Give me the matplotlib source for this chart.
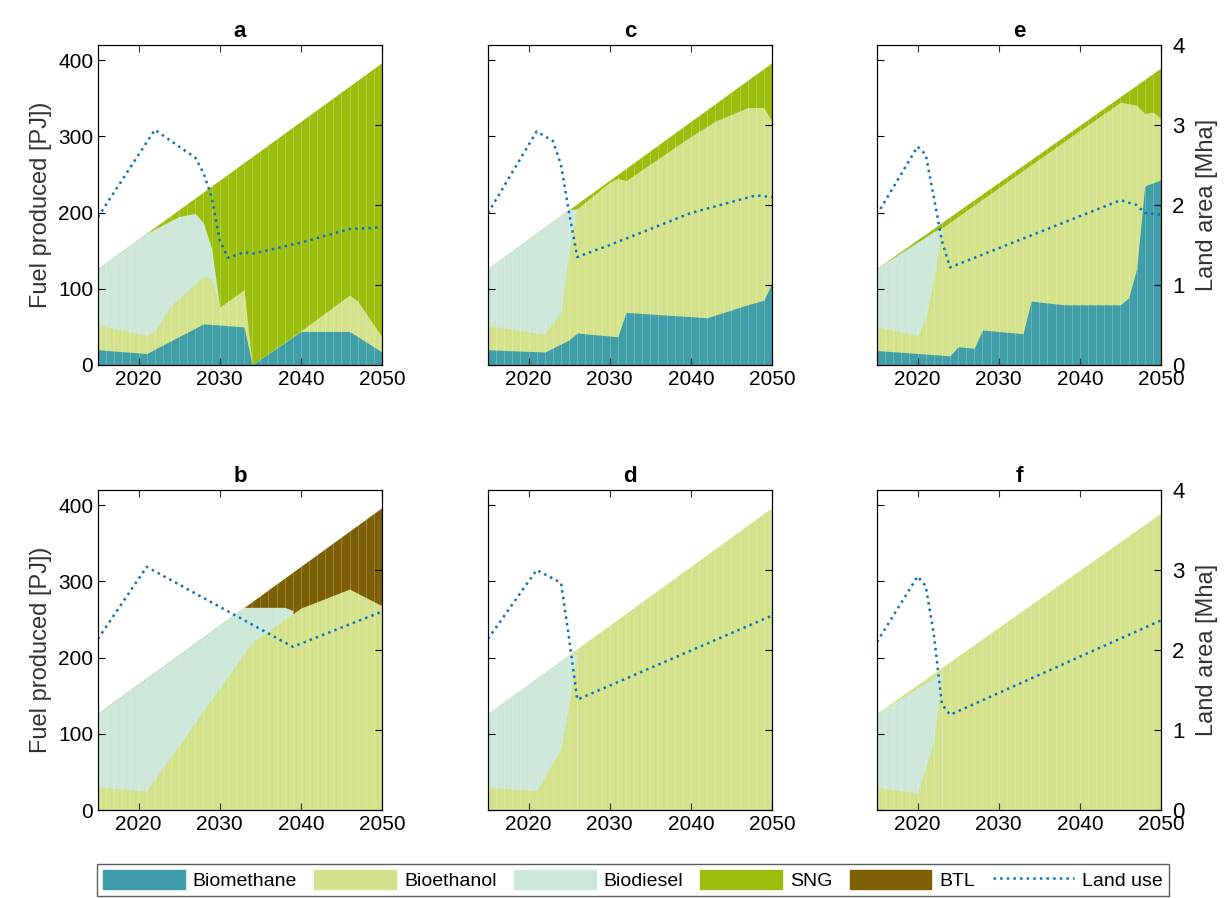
import matplotlib
matplotlib.use("Agg")
import matplotlib.pyplot as plt
from matplotlib.patches import Patch
from matplotlib.lines import Line2D

plt.rcParams['font.family'] = ['Liberation Sans', 'DejaVu Sans']

colors = {
    'Biomethane': '#3f9ea8',
    'Bioethanol': '#d4e28c',
    'Biodiesel': '#cde8d8',
    'SNG': '#9bbe0e',
    'BTL': '#7d6005',
}
land_color = '#0a72c0'

# cumulative tops of each layer (PJ), drawn from the top layer down
panels = {
    'a': {
        'SNG': ([2015, 2050], [127, 397]),
        'Biodiesel': ([2015, 2021, 2025, 2027, 2028, 2029, 2030],
                      [127, 173, 195, 199, 186, 153, 76]),
        'Bioethanol': ([2015, 2021, 2022, 2024, 2028, 2029, 2030, 2033, 2034, 2040, 2046, 2047, 2050],
                       [52, 39, 45, 78, 116, 114, 76, 99, 0, 45, 92, 84, 37]),
        'Biomethane': ([2015, 2021, 2028, 2033, 2034, 2040, 2046, 2050],
                       [20, 15, 54, 50, 0, 44, 44, 17]),
        'land': ([2015, 2022, 2027, 2028, 2029, 2030, 2031, 2033, 2034, 2040, 2046, 2050],
                 [1.85, 2.94, 2.59, 2.4, 2.1, 1.56, 1.34, 1.41, 1.39, 1.53, 1.7, 1.72]),
    },
    'b': {
        'BTL': ([2015, 2050], [127, 397]),
        'Biodiesel': ([2015, 2033, 2034, 2038, 2039], [127, 266, 266, 266, 262]),
        'Bioethanol': ([2015, 2021, 2034, 2040, 2046, 2050], [30, 25, 220, 265, 290, 268]),
        'land': ([2015, 2021, 2039, 2050], [2.14, 3.04, 2.04, 2.48]),
    },
    'c': {
        'SNG': ([2015, 2050], [127, 397]),
        'Biodiesel': ([2015, 2025, 2026], [127, 204, 205]),
        'Bioethanol': ([2015, 2022, 2024, 2025, 2026, 2030, 2031, 2032, 2040, 2043, 2047, 2049, 2050],
                       [52, 40, 70, 150, 205, 240, 245, 242, 300, 320, 338, 338, 320]),
        'Biomethane': ([2015, 2022, 2025, 2026, 2031, 2032, 2042, 2047, 2049, 2050],
                       [20, 17, 33, 42, 37, 69, 62, 79, 85, 108]),
        'land': ([2015, 2021, 2023, 2024, 2025, 2026, 2030, 2040, 2048, 2050],
                 [1.9, 2.92, 2.8, 2.5, 1.9, 1.35, 1.5, 1.9, 2.12, 2.1]),
    },
    'd': {
        'Bioethanol': ([2015, 2050], [127, 397]),
        'Biodiesel': ([2015, 2025, 2026], [127, 204, 205]),
        'Bioethanol2': ([2015, 2021, 2024, 2025, 2026], [30, 25, 80, 140, 205]),
        'land': ([2015, 2021, 2024, 2025, 2026, 2050], [2.14, 3.0, 2.84, 2.14, 1.38, 2.43]),
    },
    'e': {
        'SNG': ([2015, 2050], [127, 390]),
        'Biodiesel': ([2015, 2022, 2023], [127, 175, 180]),
        'Bioethanol': ([2015, 2020, 2021, 2022, 2023, 2038, 2045, 2047, 2048, 2049, 2050],
                       [50, 39, 62, 113, 180, 293, 345, 341, 330, 332, 324]),
        'Biomethane': ([2015, 2024, 2025, 2027, 2028, 2033, 2034, 2038, 2045, 2046, 2047, 2048, 2050],
                       [19, 12, 24, 22, 46, 41, 84, 79, 79, 88, 126, 235, 243]),
        'land': ([2015, 2020, 2021, 2022, 2023, 2024, 2034, 2045, 2047, 2048, 2050],
                 [1.88, 2.73, 2.63, 2.1, 1.55, 1.22, 1.62, 2.06, 2.0, 1.9, 1.88]),
    },
    'f': {
        'Bioethanol': ([2015, 2050], [127, 390]),
        'Biodiesel': ([2015, 2022, 2023], [127, 173, 180]),
        'Bioethanol2': ([2015, 2020, 2022, 2023], [30, 22, 90, 180]),
        'land': ([2015, 2020, 2021, 2022, 2023, 2024, 2050], [2.1, 2.92, 2.8, 2.2, 1.32, 1.19, 2.37]),
    },
}

layout = [['a', 'c', 'e'], ['b', 'd', 'f']]
years_all = list(range(2015, 2051))

fig = plt.figure(figsize=(12.29, 8.98), dpi=100)
W, H = 1229, 898
lefts = [98, 488, 877]
tops = [45, 490]
aw, ah = 284, 320

for r, row in enumerate(layout):
    for c, name in enumerate(row):
        ax = fig.add_axes([lefts[c] / W, 1 - (tops[r] + ah) / H, aw / W, ah / H])
        p = panels[name]
        for key, val in p.items():
            if key == 'land':
                continue
            col = colors[key.rstrip('2')]
            ax.fill_between(val[0], 0, val[1], color=col, lw=0)
        for yr in years_all:
            ax.axvline(yr, color='white', lw=0.6, alpha=0.25)
        ax.set_xlim(2015, 2050)
        ax.set_ylim(0, 420)
        ax.set_xticks([2020, 2030, 2040, 2050])
        ax.set_yticks([0, 100, 200, 300, 400])
        ax.tick_params(direction='in', top=True, labelsize=15, length=5)
        ax.set_title(name, fontsize=16, fontweight='bold')
        if c == 0:
            ax.set_ylabel('Fuel produced [PJ])', fontsize=17, color='#333333')
        else:
            ax.set_yticklabels([])
        ax2 = ax.twinx()
        ax2.plot(p['land'][0], p['land'][1], ls=':', color=land_color, lw=1.8)
        ax2.set_ylim(0, 4)
        ax2.set_yticks([0, 1, 2, 3, 4])
        ax2.tick_params(direction='in', labelsize=16, length=5, pad=8)
        if c == 2:
            ax2.set_ylabel('Land area [Mha]', fontsize=17, color='#333333', labelpad=8)
        else:
            ax2.set_yticklabels([])

handles = [Patch(color=colors[k]) for k in ['Biomethane', 'Bioethanol', 'Biodiesel', 'SNG', 'BTL']]
handles.append(Line2D([0], [0], ls=':', color=land_color, lw=1.8))
labels = ['Biomethane', 'Bioethanol', 'Biodiesel', 'SNG', 'BTL', 'Land use']
fig.legend(handles, labels, loc='lower center', bbox_to_anchor=(0.515, 0.0), ncol=6,
           fontsize=14, handlelength=4.2, handleheight=1.1, columnspacing=0.9,
           handletextpad=0.4, fancybox=False, edgecolor='#333333', borderpad=0.3,
           borderaxespad=0.1)

fig.savefig('out.png', dpi=100)
